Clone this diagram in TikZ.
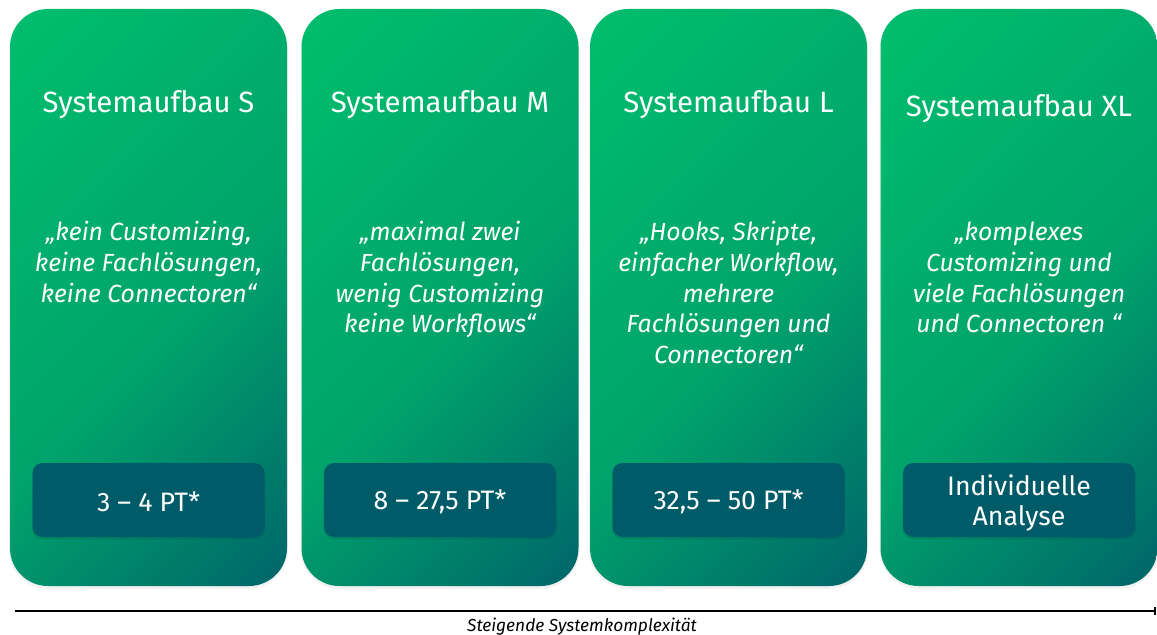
\documentclass[tikz,border=0pt]{standalone}
\usepackage{fontspec}
\setmainfont{Fira Sans}
\usetikzlibrary{arrows.meta}
\definecolor{cgA}{RGB}{0,188,108}
\definecolor{cgB}{RGB}{0,163,107}
\definecolor{cgC}{RGB}{0,92,106}
\definecolor{boxc}{RGB}{0,91,105}
\pgfdeclarehorizontalshading{cardshade}{100bp}{color(0bp)=(cgA); color(18bp)=(cgA); color(55bp)=(cgB); color(90bp)=(cgC); color(100bp)=(cgC)}
\tikzset{
  card/.style={shading=cardshade, shading angle=-45, rounded corners=28.5pt,
    minimum width=207.75pt, minimum height=432.75pt, inner sep=0pt, draw=none},
  cardshadow/.style={fill=black, opacity=0.05, rounded corners=29pt,
    minimum width=209pt, minimum height=434pt, inner sep=0pt, draw=none},
  pbox/.style={fill=boxc, rounded corners=7.5pt, minimum width=174pt, minimum height=55.5pt,
    inner sep=0pt, draw=none},
  boxshadow/.style={fill=black, opacity=0.08, rounded corners=8pt, minimum width=175pt, minimum height=56pt,
    inner sep=0pt, draw=none},
  ptext/.style={text=white, font=\fontsize{20}{22.5}\selectfont, align=center, inner sep=0pt},
  cardtitle/.style={text=white, font=\fontsize{22}{26}\selectfont, anchor=base, inner sep=0pt},
  quote/.style={text=white, font=\fontsize{18.6}{23}\selectfont\itshape, anchor=base, align=center, inner sep=0pt},
  axisline/.style={line width=1.5pt, -{Bar[width=6pt]}},
  axlabel/.style={font=\fontsize{13}{15}\selectfont\itshape, anchor=base, inner sep=0pt}
}
\begin{document}
\begin{tikzpicture}[x=0.75pt,y=-0.75pt]
\useasboundingbox (0,0) rectangle (1157,635);
% card shadows
\node[cardshadow] (s1) at (148.5,299.5) {};
\node[cardshadow] (s2) at (440,299.5) {};
\node[cardshadow] (s3) at (728.5,299.5) {};
\node[cardshadow] (s4) at (1019,299.5) {};
% cards
\node[card] (c1) at (148.5,297.5) {};
\node[card] (c2) at (440,297.5) {};
\node[card] (c3) at (728.5,297.5) {};
\node[card] (c4) at (1019,297.5) {};
% titles
\node[cardtitle] (t1) at (148.5,113) {Systemaufbau S};
\node[cardtitle] (t2) at (440,113) {Systemaufbau M};
\node[cardtitle] (t3) at (728.5,113) {Systemaufbau L};
\node[cardtitle] (t4) at (1019,117) {Systemaufbau XL};
% quotes (base = last line)
\node[quote] (q1) at (148.5,302) {„kein Customizing,\\keine Fachlösungen,\\keine Connectoren“};
\node[quote] (q2) at (440,332.75) {„maximal zwei\\Fachlösungen,\\wenig Customizing\\keine Workflows“};
\node[quote] (q3) at (728.5,363.5) {„Hooks, Skripte,\\einfacher Workflow,\\mehrere\\Fachlösungen und\\Connectoren“};
\node[quote] (q4) at (1019,332.75) {„komplexes\\Customizing und\\viele Fachlösungen\\und Connectoren “};
% price boxes
\node[boxshadow] (b1) at (148.5,502) {};
\node[boxshadow] (b2) at (440,502) {};
\node[boxshadow] (b3) at (728.5,502) {};
\node[boxshadow] (b4) at (1019,502) {};
\node[pbox] (p1) at (148.5,500) {};
\node[pbox] (p2) at (440,500) {};
\node[pbox] (p3) at (728.5,500) {};
\node[pbox] (p4) at (1019,500) {};
\node[ptext] (x1) at (148.5,502) {3 – 4 PT*};
\node[ptext] (x2) at (440,502) {8 – 27,5 PT*};
\node[ptext] (x3) at (728.5,502) {32,5 – 50 PT*};
\node[ptext] (x4) at (1019,503) {Individuelle\\Analyse};
% axis
\coordinate (axS) at (15,611);
\coordinate (axE) at (1156,611);
\draw[axisline] (axS) -- (axE);
\node[axlabel] (lab) at (582,631) {Steigende Systemkomplexität};
\end{tikzpicture}
\end{document}
